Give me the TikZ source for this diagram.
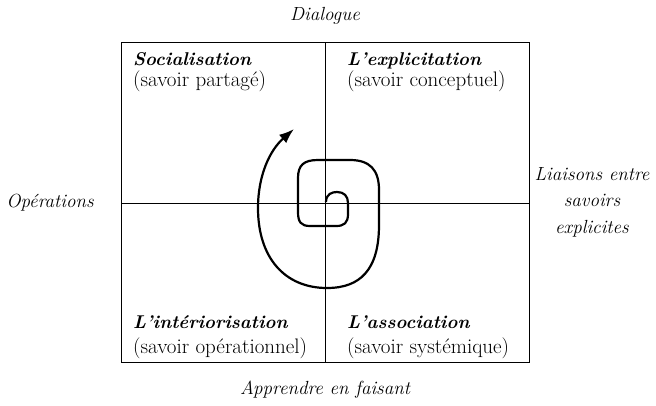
\documentclass[tikz,border=0pt]{standalone}
\usetikzlibrary{arrows.meta}
\begin{document}
\begin{tikzpicture}[x=1pt,y=-1pt,
  lbl/.style={font=\fontsize{19}{26.5}\selectfont\itshape, inner sep=0pt, align=center},
  qtitle/.style={font=\fontsize{18.5}{22}\selectfont\bfseries\itshape, inner sep=0pt, anchor=base west},
  qsub/.style={font=\fontsize{21}{24}\selectfont, inner sep=0pt, anchor=base west},
  frame/.style={draw, line width=0.9pt},
  spiral/.style={line width=2.2pt, -{Latex[length=15pt,width=11pt]}}]
\useasboundingbox (0,0) rectangle (656,405);
\coordinate (nw) at (121,42);
\coordinate (se) at (529,362);
\coordinate (top) at (325,42);
\coordinate (bot) at (325,362);
\coordinate (lft) at (121,203);
\coordinate (rgt) at (529,203);
\draw[frame] (nw) rectangle (se);
\draw[frame] (top) -- (bot);
\draw[frame] (lft) -- (rgt);
\node[qtitle] (soc) at (133,65) {Socialisation};
\node[qsub] (socs) at (133,86) {(savoir partagé)};
\node[qtitle] (exp) at (347,65) {L’explicitation};
\node[qsub] (exps) at (347,86) {(savoir conceptuel)};
\node[qtitle] (int) at (133,328) {L’intériorisation};
\node[qsub] (ints) at (133,353) {(savoir opérationnel)};
\node[qtitle] (ass) at (347,328) {L’association};
\node[qsub] (asss) at (347,353) {(savoir systémique)};
\node[lbl] (dia) at (325,16) {Dialogue};
\node[lbl] (app) at (325,390) {Apprendre en faisant};
\node[lbl] (ope) at (50,203) {Opérations};
\node[lbl] (lia) at (592,202) {Liaisons entre\\savoirs\\explicites};
\draw[spiral] (326,202) .. controls (326,194) and (332,192) .. (337,192)
  .. controls (344,192) and (348,196) .. (348,203)
  -- (348,214) .. controls (348,223) and (344,226) .. (336,226)
  -- (310,226) .. controls (301,226) and (298,222) .. (298,212)
  -- (298,178) .. controls (298,165) and (304,160) .. (318,160)
  -- (350,160) .. controls (370,160) and (379,170) .. (379,190)
  -- (379,225) .. controls (379,270) and (360,288) .. (327,288)
  .. controls (285,288) and (258,258) .. (258,208)
  .. controls (258,175) and (270,150) .. (294,129);
\end{tikzpicture}
\end{document}
